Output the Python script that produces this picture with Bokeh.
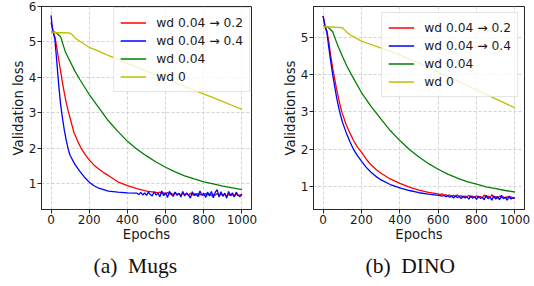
from bokeh.plotting import figure
from bokeh.layouts import row
from bokeh.models import Range1d, FixedTicker, Title
from bokeh.embed import file_html
from bokeh.resources import INLINE

# ---------------- data ----------------
x_ticks = [0, 200, 400, 600, 800, 1000]
legend_labels = ["wd 0.04 \u2192 0.2", "wd 0.04 \u2192 0.4", "wd 0.04", "wd 0"]
captions = ["(a)\u00a0\u00a0Mugs", "(b)\u00a0\u00a0DINO"]

# Mugs
mugs_red_epochs = [0, 10, 20, 30, 40, 50, 60, 70, 80, 90, 100, 120, 140, 160, 180, 200, 225, 250,
                   275, 300, 350, 400, 450, 500] + list(range(550, 1001, 10))
mugs_red_loss = [5.55, 5.30, 5.15, 4.85, 4.50, 4.18, 3.85, 3.55, 3.28, 3.05, 2.85, 2.45, 2.20, 1.98,
                 1.82, 1.68, 1.53, 1.42, 1.32, 1.24, 1.06, 0.95, 0.87, 0.80,
                 0.76, 0.75, 0.77, 0.73, 0.75, 0.72, 0.76, 0.71, 0.74, 0.70, 0.75, 0.71, 0.73, 0.69,
                 0.74, 0.70, 0.72, 0.68, 0.74, 0.69, 0.72, 0.68, 0.73, 0.69, 0.71, 0.67, 0.73, 0.69,
                 0.72, 0.67, 0.71, 0.68, 0.73, 0.67, 0.71, 0.68, 0.72, 0.66, 0.71, 0.67, 0.70, 0.66,
                 0.72, 0.67, 0.69, 0.70]

mugs_blue_epochs = [0, 5, 10, 20, 30, 40, 50, 60, 70, 80, 90, 100, 125, 150, 175, 200, 225, 250,
                    300, 350, 400, 440] + list(range(450, 1001, 10))
mugs_blue_loss = [5.75, 5.50, 5.30, 5.08, 4.45, 3.80, 3.25, 2.85, 2.50, 2.22, 1.98, 1.80, 1.55, 1.36,
                  1.19, 1.05, 0.95, 0.88, 0.80, 0.77, 0.75, 0.74,
                  0.74, 0.70, 0.76, 0.69, 0.75, 0.68, 0.77, 0.70, 0.66, 0.78, 0.69, 0.74, 0.64, 0.80,
                  0.67, 0.75, 0.62, 0.79, 0.70, 0.65, 0.77, 0.68, 0.74, 0.63, 0.79, 0.66, 0.75, 0.69,
                  0.60, 0.78, 0.67, 0.73, 0.64, 0.80, 0.68, 0.74, 0.62, 0.77, 0.66, 0.79, 0.61, 0.76,
                  0.84, 0.63, 0.78, 0.65, 0.74, 0.60, 0.79, 0.67, 0.75, 0.63, 0.77, 0.68, 0.64, 0.71]

mugs_green_epochs = [0, 25, 50, 75, 100, 125, 150, 200, 250, 300, 350, 400, 450, 500, 550, 600,
                     650, 700, 750, 800, 850, 900, 950, 1000]
mugs_green_loss = [5.30, 5.27, 5.15, 4.72, 4.45, 4.18, 3.95, 3.52, 3.15, 2.78, 2.48, 2.20, 1.98,
                   1.79, 1.62, 1.47, 1.34, 1.23, 1.14, 1.06, 1.00, 0.94, 0.89, 0.84]

mugs_yellow_epochs = [0, 25, 50, 75, 100, 110, 125, 150, 200, 250, 300, 350, 400, 450, 500, 550,
                      600, 650, 700, 750, 800, 850, 900, 950, 1000]
mugs_yellow_loss = [5.29, 5.26, 5.26, 5.26, 5.25, 5.21, 5.12, 5.02, 4.85, 4.74, 4.62, 4.51, 4.40,
                    4.29, 4.18, 4.08, 3.97, 3.86, 3.75, 3.64, 3.53, 3.43, 3.32, 3.21, 3.10]

# DINO
dino_red_epochs = [0, 10, 20, 30, 40, 50, 60, 70, 80, 90, 100, 120, 140, 160, 180, 200, 225, 250,
                   275, 300, 350, 400, 450, 500, 550] + list(range(600, 1001, 10))
dino_red_loss = [5.58, 5.30, 5.18, 4.88, 4.50, 4.18, 3.90, 3.62, 3.38, 3.15, 2.96, 2.66, 2.43, 2.22,
                 2.05, 1.92, 1.73, 1.58, 1.46, 1.36, 1.20, 1.08, 0.98, 0.90, 0.84,
                 0.80, 0.78, 0.80, 0.76, 0.78, 0.75, 0.77, 0.74, 0.76, 0.72, 0.78, 0.73, 0.75, 0.71,
                 0.74, 0.72, 0.76, 0.70, 0.74, 0.71, 0.75, 0.70, 0.73, 0.69, 0.77, 0.71, 0.74, 0.69,
                 0.78, 0.70, 0.73, 0.68, 0.74, 0.70, 0.72, 0.68, 0.73, 0.69, 0.72, 0.68, 0.70]

dino_blue_epochs = [0, 10, 20, 30, 40, 50, 60, 70, 80, 90, 100, 120, 140, 160, 180, 200, 225, 250,
                    275, 300, 350, 400, 450, 500, 550] + list(range(600, 1001, 10))
dino_blue_loss = [5.58, 5.30, 5.12, 4.72, 4.35, 4.00, 3.70, 3.40, 3.15, 2.93, 2.74, 2.45, 2.20, 1.98,
                  1.82, 1.68, 1.51, 1.38, 1.27, 1.18, 1.05, 0.96, 0.89, 0.83, 0.79,
                  0.76, 0.75, 0.74, 0.76, 0.72, 0.75, 0.71, 0.74, 0.69, 0.75, 0.70, 0.73, 0.67, 0.74,
                  0.69, 0.72, 0.66, 0.75, 0.68, 0.72, 0.65, 0.74, 0.68, 0.71, 0.64, 0.76, 0.67, 0.72,
                  0.63, 0.75, 0.66, 0.73, 0.64, 0.76, 0.67, 0.71, 0.63, 0.74, 0.66, 0.70, 0.68]

dino_green_epochs = [0, 25, 50, 75, 100, 125, 150, 200, 250, 300, 350, 400, 450, 500, 550, 600,
                     650, 700, 750, 800, 850, 900, 950, 1000]
dino_green_loss = [5.32, 5.28, 5.15, 4.80, 4.50, 4.22, 3.98, 3.52, 3.15, 2.82, 2.50, 2.23, 1.99,
                   1.79, 1.61, 1.46, 1.33, 1.22, 1.13, 1.06, 0.99, 0.94, 0.89, 0.85]

dino_yellow_epochs = [0, 25, 50, 75, 100, 110, 125, 150, 200, 250, 300, 350, 400, 450, 500, 550,
                      600, 650, 700, 750, 800, 850, 900, 950, 1000]
dino_yellow_loss = [5.30, 5.28, 5.28, 5.27, 5.26, 5.21, 5.13, 5.04, 4.90, 4.81, 4.72, 4.63, 4.53,
                    4.42, 4.31, 4.19, 4.07, 3.95, 3.83, 3.71, 3.59, 3.47, 3.35, 3.23, 3.11]

colors = ["#ff0000", "#0000ff", "#008000", "#bfbf00"]

FONT = "DejaVu Sans"
SPINE = "#262626"


def make_panel(series, y_range, y_ticks, caption, frame_width, mb_left, mb_right, legend_margin):
    p = figure(frame_width=frame_width, frame_height=203,
               x_range=Range1d(-50, 1050), y_range=Range1d(*y_range),
               output_backend="svg", toolbar_location=None,
               min_border_left=mb_left, min_border_right=mb_right, min_border_top=6,
               min_border_bottom=10)
    p.background_fill_color = "white"
    p.border_fill_color = "white"
    p.outline_line_color = SPINE
    p.outline_line_width = 1

    for (xs, ys), col, lab in zip(series, colors, legend_labels):
        p.line(xs, ys, line_color=col, line_width=1.3, legend_label=lab)

    for ax in (p.xaxis[0], p.yaxis[0]):
        ax.axis_line_color = SPINE
        ax.major_tick_line_color = SPINE
        ax.minor_tick_line_color = None
        ax.major_tick_in = 0
        ax.major_tick_out = 4
        ax.major_label_text_font = FONT
        ax.major_label_text_font_size = "12px"
        ax.major_label_text_color = "#1a1a1a"
        ax.axis_label_text_font = FONT
        ax.axis_label_text_font_size = "13.2px"
        ax.axis_label_text_font_style = "normal"
        ax.axis_label_text_color = "#1a1a1a"
    p.yaxis[0].major_label_standoff = 1
    p.yaxis[0].axis_label_standoff = 0
    p.xaxis[0].major_label_standoff = 1
    p.xaxis[0].axis_label_standoff = 0
    p.xaxis[0].ticker = FixedTicker(ticks=x_ticks)
    p.yaxis[0].ticker = FixedTicker(ticks=y_ticks)
    p.xaxis[0].axis_label = "Epochs"
    p.yaxis[0].axis_label = "Validation loss"

    for g in (p.xgrid[0], p.ygrid[0]):
        g.grid_line_color = "#c8c8c8"
        g.grid_line_dash = "3 2"
        g.grid_line_width = 0.8

    lg = p.legend[0]
    lg.location = "top_right"
    lg.margin = legend_margin
    lg.padding = 6
    lg.spacing = 1
    lg.glyph_width = 26
    lg.glyph_height = 17
    lg.label_height = 17
    lg.label_standoff = 10
    lg.label_text_font = FONT
    lg.label_text_font_size = "12.3px"
    lg.label_text_color = "#1a1a1a"
    lg.border_line_color = "#cccccc"
    lg.border_line_width = 1
    lg.background_fill_alpha = 0.8

    t = Title(text=caption, align="left", offset=52, text_font="Liberation Serif",
              text_font_size="21.5px", text_font_style="normal", text_color="#111111",
              standoff=14)
    p.add_layout(t, "below")
    return p


p1 = make_panel([(mugs_red_epochs, mugs_red_loss), (mugs_blue_epochs, mugs_blue_loss),
                 (mugs_green_epochs, mugs_green_loss), (mugs_yellow_epochs, mugs_yellow_loss)],
                (0.28, 6.0), [1, 2, 3, 4, 5, 6], captions[0], 210, 41, 22, 1)
p2 = make_panel([(dino_red_epochs, dino_red_loss), (dino_blue_epochs, dino_blue_loss),
                 (dino_green_epochs, dino_green_loss), (dino_yellow_epochs, dino_yellow_loss)],
                (0.38, 5.83), [1, 2, 3, 4, 5], captions[1], 211, 40, 8, 6)

layout = row(p1, p2)
open("out.html", "w").write(file_html(layout, INLINE))
